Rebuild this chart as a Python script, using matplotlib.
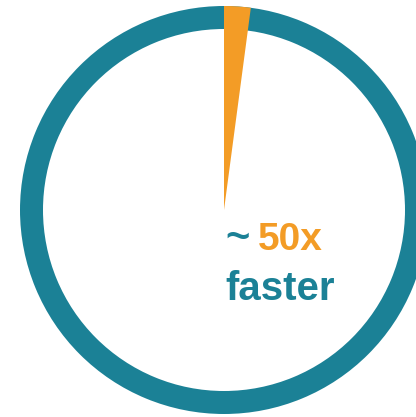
import matplotlib
matplotlib.use("Agg")
import matplotlib.pyplot as plt

# data
labels = ["Speedup share", "Rest"]
share_values = [2.1, 97.9]      # ~1/50 of the circle
ring_values = [100]
text_prefix = "~"
text_value = "50x"
text_suffix = "faster"

TEAL = "#1b8196"
ORANGE = "#f39c26"

W, H = 416, 417
fig = plt.figure(figsize=(W / 100, H / 100), dpi=100)
ax = fig.add_axes([0, 0, 1, 1])

cx, cy = 224, H - 210
r_out, r_in = 204, 181

ax.pie(ring_values, colors=[TEAL], radius=r_out, center=(cx, cy),
       wedgeprops=dict(width=r_out - r_in, linewidth=0), startangle=90)
wedges, _ = ax.pie(share_values, colors=[ORANGE, "none"], radius=r_out,
                   center=(cx, cy), startangle=90, counterclock=False,
                   wedgeprops=dict(linewidth=0))

ax.set_xlim(0, W)
ax.set_ylim(0, H)
ax.set_aspect("equal")
ax.axis("off")

ax.text(225, H - 250, text_prefix, color=TEAL, fontsize=30, fontweight="bold",
        family="Liberation Sans", ha="left", va="baseline")
ax.text(258, H - 250, text_value, color=ORANGE, fontsize=28, fontweight="bold",
        family="Liberation Sans", ha="left", va="baseline")
ax.text(225, H - 300, text_suffix, color=TEAL, fontsize=29, fontweight="bold",
        family="Liberation Sans", ha="left", va="baseline")

fig.savefig("out.png", dpi=100)
